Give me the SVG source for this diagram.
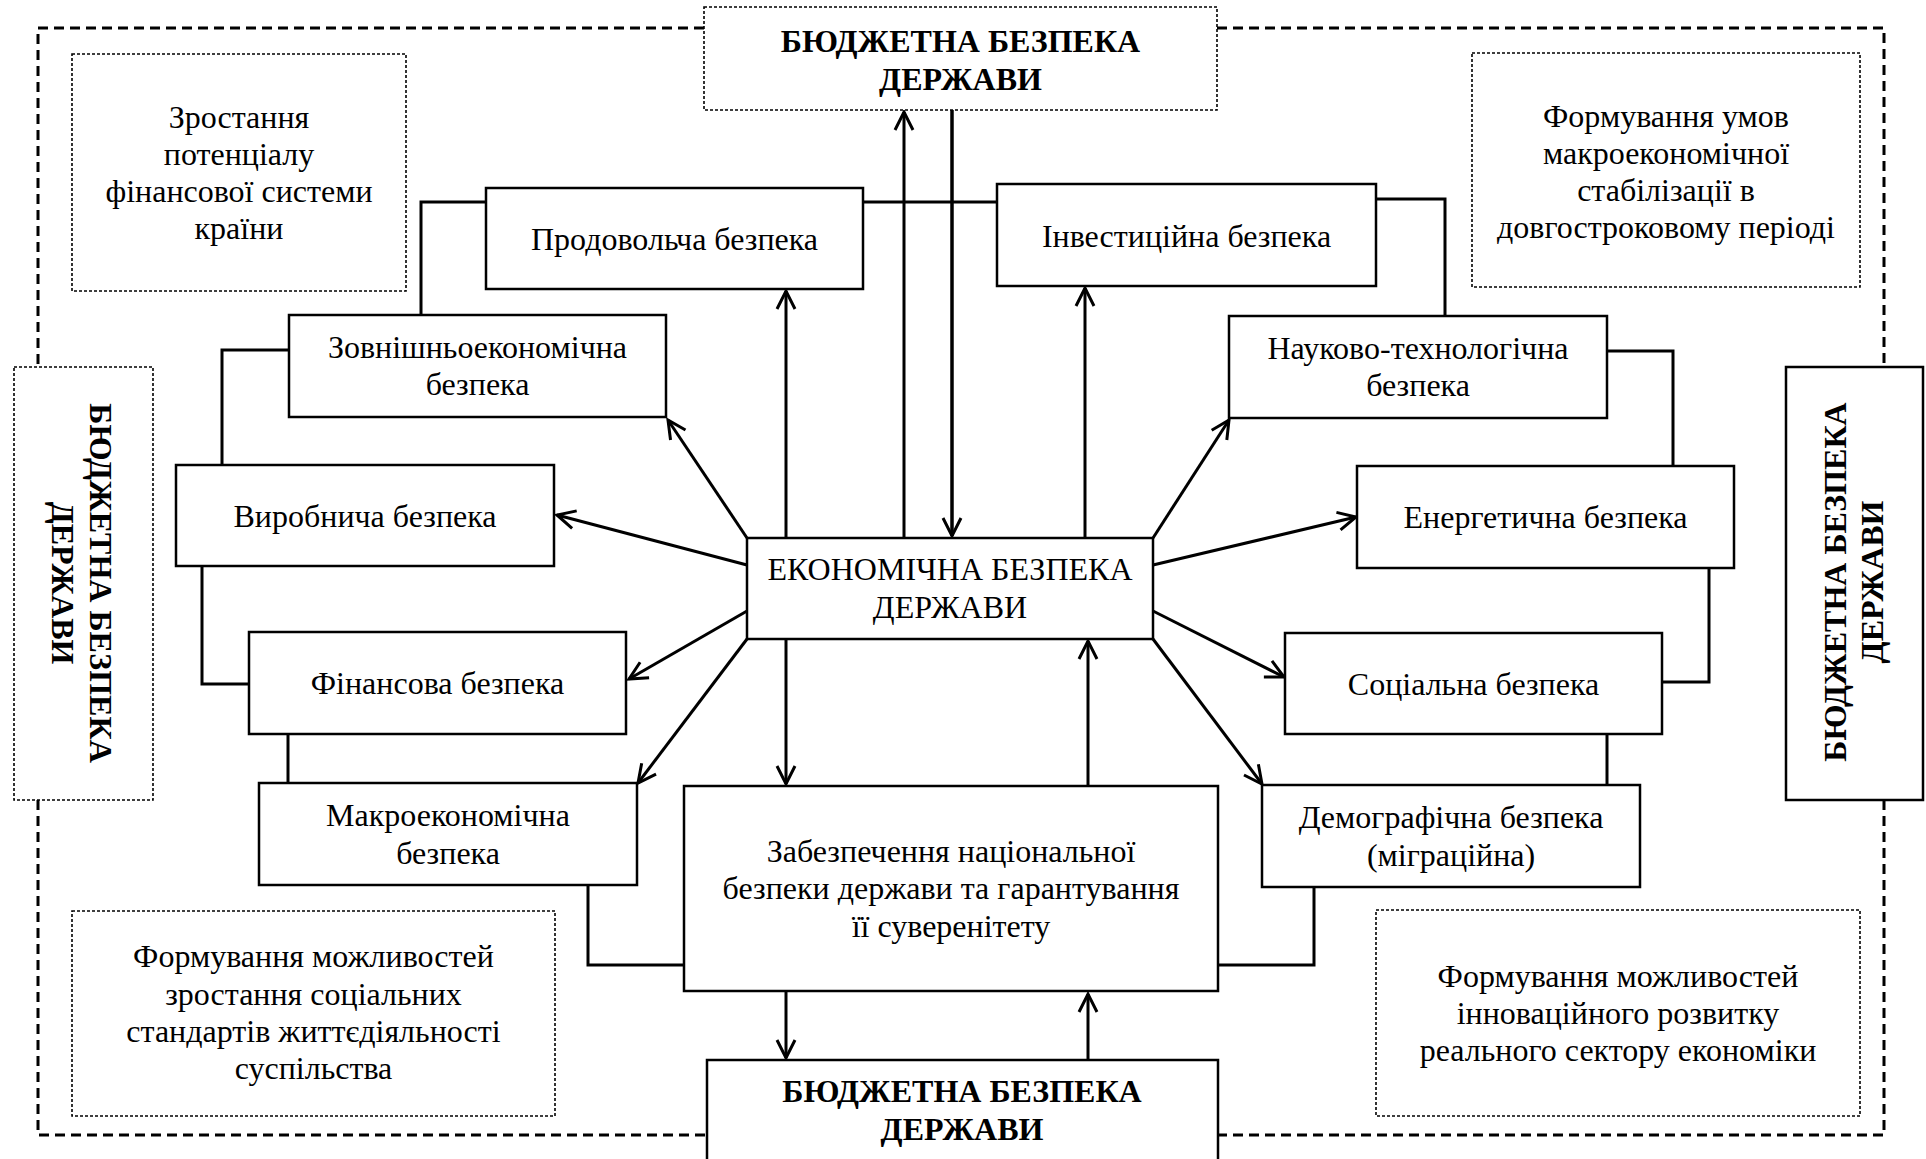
<svg xmlns="http://www.w3.org/2000/svg" width="1926" height="1159" viewBox="0 0 1926 1159">
  <defs>
    <style>
      .bg { fill: #ffffff; }
      .box { fill: #ffffff; stroke: #000; stroke-width: 2.5; }
      .dot { fill: #ffffff; stroke: #000; stroke-width: 1.6; stroke-dasharray: 3 2; }
      .frame { fill: none; stroke: #000; stroke-width: 3; stroke-dasharray: 10 6; }
      .ln { fill: none; stroke: #000; stroke-width: 3; }
      .ar { fill: none; stroke: #000; stroke-width: 3; marker-end: url(#arr); }
      text { font-family: "Liberation Serif", "Times New Roman", serif; font-size: 32px; fill: #000; text-anchor: middle; }
      .b { font-weight: bold; }
    </style>
    <marker id="arr" markerUnits="userSpaceOnUse" viewBox="-22 -13 26 26" markerWidth="26" markerHeight="26" refX="0" refY="0" orient="auto" overflow="visible">
      <path d="M-18,-9 L0,0 L-18,9" fill="none" stroke="#000" stroke-width="3"/>
    </marker>
  </defs>

  <rect class="bg" x="0" y="0" width="1926" height="1159"/>

  <!-- outer dashed frame, broken by the four budget-security boxes -->
  <g id="frame">
    <path class="frame" d="M704,28 H38 V367"/>
    <path class="frame" d="M38,800 V1135 H707"/>
    <path class="frame" d="M1217,28 H1884 V367"/>
    <path class="frame" d="M1884,800 V1135 H1218"/>
  </g>

  <!-- connectors -->
  <g id="connectors">
    <!-- ladder links between neighbouring blocks -->
    <path class="ln" d="M486,202 H421 V315"/>
    <path class="ln" d="M863,202 H997"/>
    <path class="ln" d="M289,350 H222 V465"/>
    <path class="ln" d="M202,566 V684 H249"/>
    <path class="ln" d="M288,734 V783"/>
    <path class="ln" d="M588,885 V965 H684"/>
    <path class="ln" d="M1376,199 H1445 V316"/>
    <path class="ln" d="M1607,351 H1673 V466"/>
    <path class="ln" d="M1709,568 V682 H1662"/>
    <path class="ln" d="M1607,734 V785"/>
    <path class="ln" d="M1314,887 V965 H1218"/>

    <!-- arrows around the central block -->
    <path class="ar" d="M904,538 V112"/>
    <path class="ar" d="M952,110 V536" style="stroke-width:3.5"/>
    <path class="ar" d="M786,538 V291"/>
    <path class="ar" d="M1085,538 V288"/>
    <path class="ar" d="M747,538 L668,420"/>
    <path class="ar" d="M747,565 L557,515"/>
    <path class="ar" d="M1153,538 L1229,420"/>
    <path class="ar" d="M1153,565 L1356,517"/>
    <path class="ar" d="M747,611 L629,679"/>
    <path class="ar" d="M747,639 L638,783"/>
    <path class="ar" d="M786,639 V784"/>
    <path class="ar" d="M1088,786 V641"/>
    <path class="ar" d="M1153,611 L1284,677"/>
    <path class="ar" d="M1153,639 L1262,784"/>
    <path class="ar" d="M786,992 V1058"/>
    <path class="ar" d="M1088,1059 V994"/>
  </g>

  <!-- budget security: top -->
  <g id="budget-top">
    <rect class="dot" x="704" y="7" width="513" height="103"/>
    <text class="b" x="960.5" y="52">БЮДЖЕТНА БЕЗПЕКА</text>
    <text class="b" x="960.5" y="90">ДЕРЖАВИ</text>
  </g>

  <!-- budget security: left (vertical) -->
  <g id="budget-left">
    <rect class="dot" x="14" y="367" width="139" height="433"/>
    <g transform="translate(90,583) rotate(90)">
      <text class="b" x="0" y="0">БЮДЖЕТНА БЕЗПЕКА</text>
      <text class="b" x="0" y="38">ДЕРЖАВИ</text>
    </g>
  </g>

  <!-- budget security: right (vertical) -->
  <g id="budget-right">
    <rect class="box" x="1786" y="367" width="137" height="433"/>
    <g transform="translate(1846,582) rotate(-90)">
      <text class="b" x="0" y="0">БЮДЖЕТНА БЕЗПЕКА</text>
      <text class="b" x="0" y="37">ДЕРЖАВИ</text>
    </g>
  </g>

  <!-- budget security: bottom -->
  <g id="budget-bottom">
    <rect class="box" x="707" y="1060" width="511" height="120"/>
    <text class="b" x="962" y="1102">БЮДЖЕТНА БЕЗПЕКА</text>
    <text class="b" x="962" y="1140">ДЕРЖАВИ</text>
  </g>

  <!-- goal notes -->
  <g id="note-financial-potential">
    <rect class="dot" x="72" y="54" width="334" height="237"/>
    <text x="239" y="128">Зростання</text>
    <text x="239" y="165">потенціалу</text>
    <text x="239" y="202">фінансової системи</text>
    <text x="239" y="239">країни</text>
  </g>

  <g id="note-macro-stabilisation">
    <rect class="dot" x="1472" y="53" width="388" height="234"/>
    <text x="1666" y="127">Формування умов</text>
    <text x="1666" y="164">макроекономічної</text>
    <text x="1666" y="201">стабілізації в</text>
    <text x="1666" y="238">довгостроковому періоді</text>
  </g>

  <g id="note-social-standards">
    <rect class="dot" x="72" y="911" width="483" height="205"/>
    <text x="313.5" y="967">Формування можливостей</text>
    <text x="313.5" y="1005">зростання соціальних</text>
    <text x="313.5" y="1042">стандартів життєдіяльності</text>
    <text x="313.5" y="1079">суспільства</text>
  </g>

  <g id="note-innovation">
    <rect class="dot" x="1376" y="910" width="484" height="206"/>
    <text x="1618" y="987">Формування можливостей</text>
    <text x="1618" y="1024">інноваційного розвитку</text>
    <text x="1618" y="1061">реального сектору економіки</text>
  </g>

  <!-- central block -->
  <g id="economic-security">
    <rect class="box" x="747" y="538" width="406" height="101"/>
    <text x="950" y="580">ЕКОНОМІЧНА БЕЗПЕКА</text>
    <text x="950" y="618">ДЕРЖАВИ</text>
  </g>

  <!-- components of economic security -->
  <g id="food">
    <rect class="box" x="486" y="188" width="377" height="101"/>
    <text x="674.5" y="250">Продовольча безпека</text>
  </g>

  <g id="investment">
    <rect class="box" x="997" y="184" width="379" height="102"/>
    <text x="1186.5" y="247">Інвестиційна безпека</text>
  </g>

  <g id="foreign-economic">
    <rect class="box" x="289" y="315" width="377" height="102"/>
    <text x="477.5" y="358">Зовнішньоекономічна</text>
    <text x="477.5" y="395">безпека</text>
  </g>

  <g id="science-tech">
    <rect class="box" x="1229" y="316" width="378" height="102"/>
    <text x="1418" y="359">Науково-технологічна</text>
    <text x="1418" y="396">безпека</text>
  </g>

  <g id="production">
    <rect class="box" x="176" y="465" width="378" height="101"/>
    <text x="365" y="527">Виробнича безпека</text>
  </g>

  <g id="energy">
    <rect class="box" x="1357" y="466" width="377" height="102"/>
    <text x="1545.5" y="528">Енергетична безпека</text>
  </g>

  <g id="financial">
    <rect class="box" x="249" y="632" width="377" height="102"/>
    <text x="437.5" y="694">Фінансова безпека</text>
  </g>

  <g id="social">
    <rect class="box" x="1285" y="633" width="377" height="101"/>
    <text x="1473.5" y="695">Соціальна безпека</text>
  </g>

  <g id="macroeconomic">
    <rect class="box" x="259" y="783" width="378" height="102"/>
    <text x="448" y="826">Макроекономічна</text>
    <text x="448" y="864">безпека</text>
  </g>

  <g id="demographic">
    <rect class="box" x="1262" y="785" width="378" height="102"/>
    <text x="1451" y="828">Демографічна безпека</text>
    <text x="1451" y="866">(міграційна)</text>
  </g>

  <g id="national-security">
    <rect class="box" x="684" y="786" width="534" height="205"/>
    <text x="951" y="862">Забезпечення національної</text>
    <text x="951" y="899">безпеки держави та гарантування</text>
    <text x="951" y="937">її суверенітету</text>
  </g>
</svg>
